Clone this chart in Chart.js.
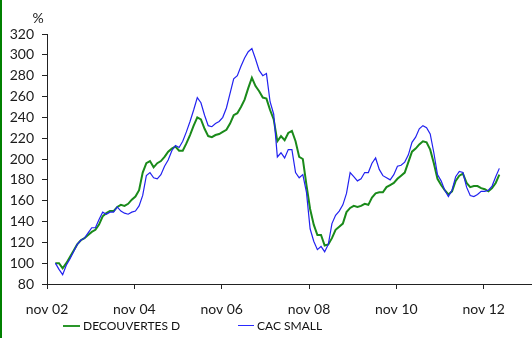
<!DOCTYPE html>
<html>
<head>
<meta charset="utf-8">
<script src="https://cdn.jsdelivr.net/npm/chart.js@4.4.1/dist/chart.umd.min.js"></script>
<style>
  html, body { margin: 0; padding: 0; background: #fff; }
  #wrap { position: relative; width: 532px; height: 338px; overflow: hidden; font-family: Lato, sans-serif; }
  #edge { position: absolute; left: 0; top: 0; width: 2px; height: 338px; background: #008000; }
  .leg { position: absolute; top: 318px; height: 15px; display: flex; align-items: center; font-size: 12px; color: #111; white-space: nowrap; }
  .leg i { display: inline-block; height: 2px; margin-right: 3px; }
</style>
</head>
<body>
<div id="wrap">
  <canvas id="c" width="532" height="338"></canvas>
  <div id="edge"></div>
  <div class="leg" style="left:63px"><i style="width:17px;background:#2a962a"></i><span id="l0"></span></div>
  <div class="leg" style="left:238px"><i style="width:16px;height:1.5px;background:#2a2aff"></i><span id="l1"></span></div>
</div>
<script>
// Monthly index levels (base 100), January 2003 to March 2013
const firstYear = 2003, firstMonth = 1, obsDay = 10;

const seriesNames = ['DECOUVERTES D', 'CAC SMALL'];

const decouvertes = [
  100, 100, 95, 100, 106, 112, 118, 122, 124, 127, 130, 132, 137, 145, 148, 150,
  150, 154, 156, 155, 157, 161, 164, 170, 187, 196, 198, 192, 196, 198, 202, 207,
  210, 212, 208, 208, 215, 223, 232, 240, 238, 229, 222, 221, 223, 224, 226, 228,
  234, 242, 244, 250, 257, 268, 278, 270, 265, 259, 258, 247, 238, 217, 222, 218,
  225, 227, 217, 202, 200, 175, 152, 137, 127, 127, 117, 118, 124, 132, 135, 138,
  149, 153, 155, 154, 155, 157, 156, 163, 167, 168, 168, 173, 175, 177, 181, 184,
  187, 197, 207, 210, 214, 217, 216, 209, 196, 181, 175, 170, 166, 169, 179, 184,
  186, 177, 173, 174, 174, 172, 171, 169, 172, 177, 185
];

const cacSmall = [
  100, 94, 89, 98, 104, 111, 118, 122, 124, 129, 134, 134, 142, 149, 147, 149,
  149, 154, 150, 148, 147, 149, 150, 155, 165, 184, 187, 182, 181, 185, 193, 199,
  208, 213, 211, 217, 226, 236, 247, 259, 254, 242, 232, 231, 234, 236, 240, 249,
  263, 277, 280, 289, 297, 303, 306, 296, 285, 280, 282, 255, 243, 202, 206, 201,
  209, 209, 187, 182, 185, 168, 133, 121, 113, 116, 111, 118, 138, 146, 150, 156,
  167, 187, 183, 179, 181, 187, 187, 196, 201, 190, 184, 182, 180, 185, 193, 194,
  197, 204, 216, 221, 229, 232, 230, 224, 206, 185, 179, 170, 164, 170, 183, 188,
  187, 173, 165, 164, 166, 169, 169, 170, 174, 183, 191
];

// x axis: months counted from November 2002, a label every two years
const tickLabels = ['nov 02', 'nov 04', 'nov 06', 'nov 08', 'nov 10', 'nov 12'];
const tickEvery = 24;
const axisMonths = 133;
const yTicks = { min: 80, max: 320, step: 20 };

function monthPos(i) {
  const m = (firstYear - 2002) * 12 + (firstMonth - 11) + i;
  return m + (obsDay - 1) / 30;
}
const toPoints = arr => arr.map((v, i) => ({ x: monthPos(i), y: v }));

document.getElementById('l0').textContent = seriesNames[0];
document.getElementById('l1').textContent = seriesNames[1];

const font = { family: 'Lato, sans-serif', size: 14 };
const ink = '#1a1a1a';

const percentLabel = {
  id: 'percentLabel',
  afterDraw(chart) {
    const { ctx } = chart;
    const y = chart.scales.y;
    ctx.save();
    ctx.font = '14px Lato, sans-serif';
    ctx.fillStyle = ink;
    ctx.textAlign = 'center';
    ctx.textBaseline = 'middle';
    ctx.fillText('%', y.right - 9, y.top - 16);
    ctx.restore();
  }
};

new Chart(document.getElementById('c'), {
  type: 'line',
  data: {
    datasets: [
      { label: seriesNames[1], data: toPoints(cacSmall), borderColor: '#2222f0', borderWidth: 1.2, pointRadius: 0, tension: 0, order: 0 },
      { label: seriesNames[0], data: toPoints(decouvertes), borderColor: '#1a8a1a', borderWidth: 2, pointRadius: 0, tension: 0, order: 1 }
    ]
  },
  options: {
    responsive: false,
    animation: false,
    devicePixelRatio: 1,
    layout: { padding: { top: 34, right: 1, left: 0, bottom: 0 } },
    plugins: { legend: { display: false }, tooltip: { enabled: false } },
    scales: {
      x: {
        type: 'linear',
        min: 0,
        max: axisMonths,
        afterBuildTicks: s => { s.ticks = tickLabels.map((_, i) => ({ value: i * tickEvery })); },
        afterFit: s => { s.height = 54; },
        ticks: {
          autoSkip: false, maxRotation: 0, padding: 12, font, color: ink,
          callback: v => tickLabels[Math.round(v / tickEvery)]
        },
        grid: { drawOnChartArea: false, drawTicks: true, tickLength: 5, color: '#222', lineWidth: 1 },
        border: { color: '#222', width: 1 }
      },
      y: {
        min: yTicks.min,
        max: yTicks.max,
        afterFit: s => { s.width = 47; },
        ticks: { stepSize: yTicks.step, padding: 8, font, color: ink },
        grid: { drawOnChartArea: false, drawTicks: true, tickLength: 5, color: '#222', lineWidth: 1 },
        border: { color: '#222', width: 1 }
      }
    }
  },
  plugins: [percentLabel]
});
</script>
</body>
</html>
